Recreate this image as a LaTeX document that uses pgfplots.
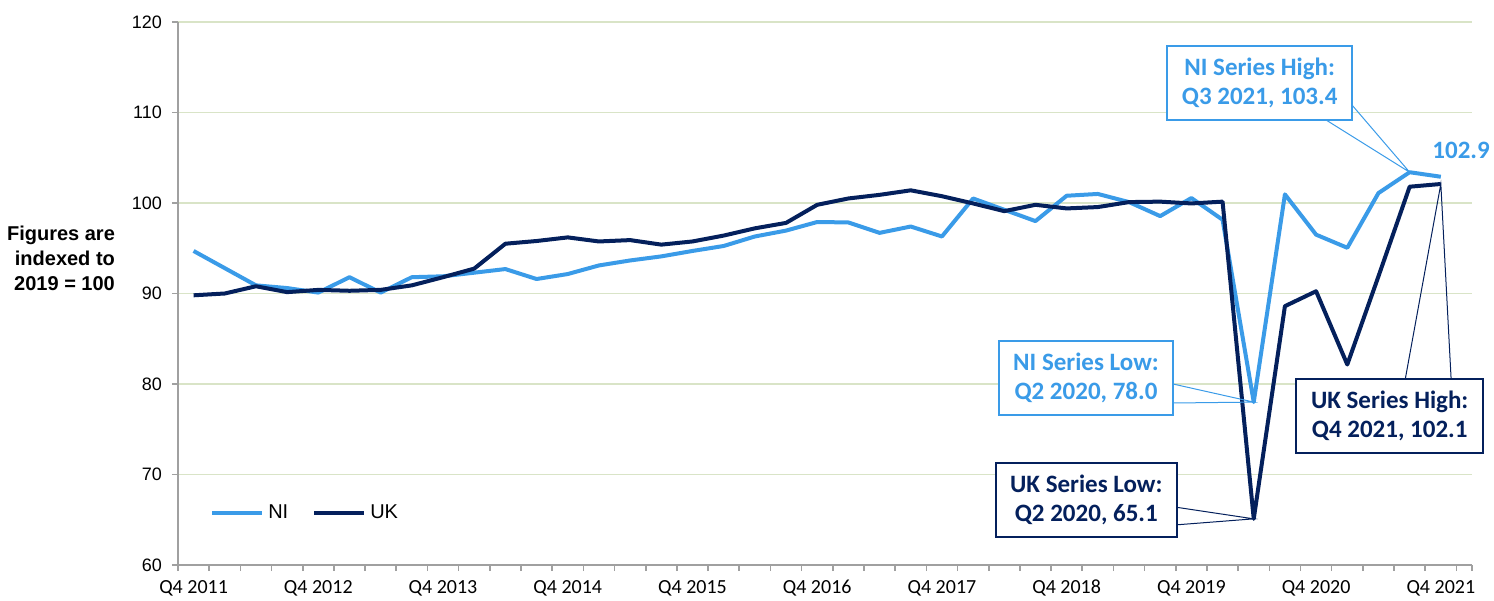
\documentclass[border=0pt]{standalone}
\usepackage{pgfplots}
\pgfplotsset{compat=1.18}
\usepackage{fontspec}
\setmainfont{Liberation Sans}
\newfontfamily\calibri{Carlito}
\definecolor{niblue}{RGB}{58,155,232}
\definecolor{uknavy}{RGB}{4,32,92}
\definecolor{gridc}{RGB}{217,228,199}
\definecolor{axc}{RGB}{160,160,160}
\pgfplotstableread{
k v
0 94.7
1 92.8
2 90.9
3 90.6
4 90.1
5 91.8
6 90.1
7 91.8
8 91.9
9 92.3
10 92.7
11 91.6
12 92.15
13 93.1
14 93.65
15 94.1
16 94.7
17 95.25
18 96.3
19 96.95
20 97.9
21 97.85
22 96.7
23 97.4
24 96.3
25 100.5
26 99.25
27 98.0
28 100.8
29 101.0
30 100.1
31 98.55
32 100.55
33 98.15
34 78.0
35 100.95
36 96.5
37 95.05
38 101.1
39 103.4
40 102.9
}\nidata
\pgfplotstableread{
k v
0 89.8
1 90.0
2 90.8
3 90.15
4 90.4
5 90.3
6 90.4
7 90.9
8 91.8
9 92.75
10 95.5
11 95.8
12 96.2
13 95.75
14 95.9
15 95.4
16 95.75
17 96.4
18 97.2
19 97.8
20 99.8
21 100.5
22 100.9
23 101.4
24 100.75
25 99.95
26 99.1
27 99.8
28 99.4
29 99.55
30 100.1
31 100.15
32 99.95
33 100.15
34 65.1
35 88.6
36 90.25
37 82.15
38 91.9
39 101.8
40 102.1
}\ukdata
\begin{document}
\begin{tikzpicture}
\path[use as bounding box] (-89pt,-17.5pt) rectangle (658pt,282.5pt);
\begin{axis}[
  at={(0,0)}, anchor=south west,
  scale only axis, width=647pt, height=271.5pt,
  xmin=-0.5, xmax=41, ymin=60, ymax=120,
  clip=false,
  axis x line*=bottom, axis y line*=left,
  axis line style={draw=axc, line width=0.8pt},
  tick align=outside,
  major tick length=3pt,
  tick style={draw=axc, line width=0.8pt},
  ytick={60,70,...,120},
  xtick={-0.5,0.5,...,40.5,41},
  xticklabel=\empty,
  extra x ticks={0,4,...,40},
  extra x tick labels={Q4 2011,Q4 2012,Q4 2013,Q4 2014,Q4 2015,Q4 2016,Q4 2017,Q4 2018,Q4 2019,Q4 2020,Q4 2021},
  extra x tick style={major tick length=0pt, xticklabel style={yshift=-4pt}},
  xticklabel style={font=\calibri\fontsize{10}{12}\selectfont},
  yticklabel style={font=\fontsize{9}{11}\selectfont, xshift=-1.5pt},
  /pgf/number format/assume math mode=true,
  ymajorgrids,
  grid style={draw=gridc, line width=0.8pt},
  legend style={at={(0.02,0.096)}, anchor=west, draw=none, fill=none,
    font=\fontsize{10}{12}\selectfont, legend columns=2,
    /tikz/every even column/.append style={column sep=10pt}},
  legend image code/.code={\draw[#1, line width=2pt] (0pt,0pt) -- (25pt,0pt);},
]
\addplot[niblue, line width=2pt, line join=round] table[x=k,y=v] {\nidata};
\addlegendentry{NI}
\addplot[uknavy, line width=2pt, line join=round] table[x=k,y=v] {\ukdata};
\addlegendentry{UK}

% NI high
\draw[niblue, line width=0.5pt] (axis cs:36.32,109.17) -- (axis cs:39,103.4) -- (axis cs:37.15,110.83);
\node[draw=niblue, fill=white, line width=0.75pt, minimum width=92.5pt, minimum height=37pt, inner sep=0pt, align=center, text=niblue, font=\calibri\bfseries\fontsize{12.5}{14.5}\selectfont] at (axis cs:34.19,113.26) {NI Series High:\\Q3 2021, 103.4};
\node[text=niblue, font=\calibri\bfseries\fontsize{12.5}{14.5}\selectfont] at (axis cs:40.65,105.86) {102.9};
% NI low
\draw[niblue, line width=0.5pt] (axis cs:31.41,80.0) -- (axis cs:34,78.0) -- (axis cs:31.41,77.9);
\node[draw=niblue, fill=white, line width=0.75pt, minimum width=87pt, minimum height=37pt, inner sep=0pt, align=center, text=niblue, font=\calibri\bfseries\fontsize{12.5}{14.5}\selectfont] at (axis cs:28.62,80.66) {NI Series Low:\\Q2 2020, 78.0};
% UK low
\draw[uknavy, line width=0.5pt] (axis cs:31.46,66.41) -- (axis cs:34,65.1) -- (axis cs:31.46,64.42);
\node[draw=uknavy, fill=white, line width=0.75pt, minimum width=90.5pt, minimum height=37pt, inner sep=0pt, align=center, text=uknavy, font=\calibri\bfseries\fontsize{12.5}{14.5}\selectfont] at (axis cs:28.63,67.18) {UK Series Low:\\Q2 2020, 65.1};
% UK high
\draw[uknavy, line width=0.5pt] (axis cs:38.86,80.55) -- (axis cs:40,102.1) -- (axis cs:40.33,80.55);
\node[draw=uknavy, fill=white, line width=0.75pt, minimum width=93.5pt, minimum height=37pt, inner sep=0pt, align=center, text=uknavy, font=\calibri\bfseries\fontsize{12.5}{14.5}\selectfont] at (axis cs:38.36,76.46) {UK Series High:\\Q4 2021, 102.1};

\node[anchor=east, align=right, font=\bfseries\fontsize{10}{12.5}\selectfont] at (axis description cs:-0.0433,0.565) {Figures are\\indexed to\\2019 = 100};
\end{axis}
\end{tikzpicture}
\end{document}
